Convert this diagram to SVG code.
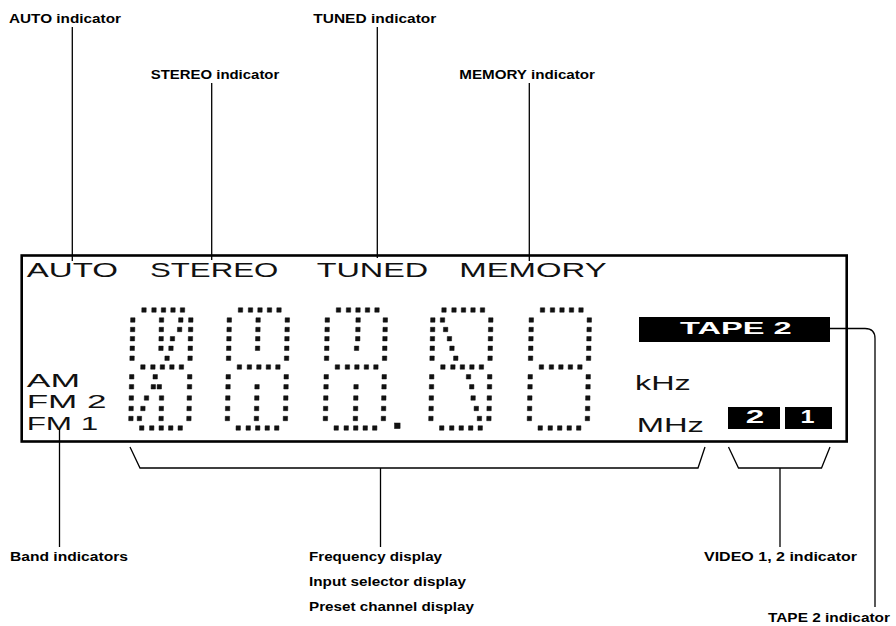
<svg xmlns="http://www.w3.org/2000/svg" width="896" height="626" viewBox="0 0 896 626">
<style>
.bg{fill:#fff}
.frame{fill:none;stroke:#000;stroke-width:2.6}
.ln{fill:none;stroke:#000;stroke-width:1.3}
.lbl{font-family:"Liberation Sans",Arial,sans-serif;font-weight:bold;font-size:12.5px;fill:#000}
.lcd{font-family:"Liberation Sans",Arial,sans-serif;font-size:21px;fill:#111}
.band{font-family:"Liberation Sans",Arial,sans-serif;font-size:18px;fill:#111}
.inv{font-family:"Liberation Sans",Arial,sans-serif;font-weight:bold;fill:#fff}
.blk{fill:#000}
.dots{fill:#111;stroke:#111;stroke-width:0.5}
</style>
<rect class="bg" x="0" y="0" width="896" height="626"/>

<g id="display">
<rect class="frame" x="21.7" y="255.5" width="825" height="186"/>
</g>

<g id="display-texts">
<text class="lcd" x="26.7" y="276.7" textLength="91.3" lengthAdjust="spacingAndGlyphs">AUTO</text>
<text class="lcd" x="150" y="276.7" textLength="128.3" lengthAdjust="spacingAndGlyphs">STEREO</text>
<text class="lcd" x="316.7" y="276.7" textLength="111.6" lengthAdjust="spacingAndGlyphs">TUNED</text>
<text class="lcd" x="459.3" y="276.7" textLength="147.4" lengthAdjust="spacingAndGlyphs">MEMORY</text>
<text class="band" x="26.7" y="387.3" textLength="53.3" lengthAdjust="spacingAndGlyphs">AM</text>
<text class="band" x="26.7" y="407.5" textLength="80" lengthAdjust="spacingAndGlyphs">FM 2</text>
<text class="band" x="26.7" y="430" textLength="71.6" lengthAdjust="spacingAndGlyphs">FM 1</text>
<text class="lcd" x="635" y="390" textLength="55.7" lengthAdjust="spacingAndGlyphs">kHz</text>
<text class="lcd" x="636.7" y="432.3" textLength="67.3" lengthAdjust="spacingAndGlyphs">MHz</text>
</g>

<g id="tape2-box">
<rect class="blk" x="639" y="317" width="191" height="25"/>
<text class="inv" x="680" y="334" font-size="17" textLength="111.7" lengthAdjust="spacingAndGlyphs">TAPE 2</text>
</g>
<g id="video2-box">
<rect class="blk" x="728" y="407" width="52" height="22"/>
<text class="inv" x="745.7" y="422.7" font-size="17.5" textLength="18.5" lengthAdjust="spacingAndGlyphs">2</text>
</g>
<g id="video1-box">
<rect class="blk" x="785" y="407" width="47" height="22"/>
<text class="inv" x="800.5" y="422.7" font-size="17.5" textLength="14" lengthAdjust="spacingAndGlyphs">1</text>
</g>

<g id="digit1" transform="translate(133 310) skewX(-1.1)">
<path class="dots" d="M8.8 -2.2h4.4v4.4h-4.4zM18.8 -2.2h4.4v4.4h-4.4zM28.3 -2.2h4.4v4.4h-4.4zM37.8 -2.2h4.4v4.4h-4.4zM47.3 -2.2h4.4v4.4h-4.4z
M8.8 54.8h4.4v4.4h-4.4zM18.8 54.8h4.4v4.4h-4.4zM28.3 54.8h4.4v4.4h-4.4zM37.8 54.8h4.4v4.4h-4.4zM47.3 54.8h4.4v4.4h-4.4z
M8.8 115.8h4.4v4.4h-4.4zM18.8 115.8h4.4v4.4h-4.4zM28.3 115.8h4.4v4.4h-4.4zM37.8 115.8h4.4v4.4h-4.4zM47.3 115.8h4.4v4.4h-4.4z
M-2.2 7.8h4.4v4.4h-4.4zM-2.2 17.3h4.4v4.4h-4.4zM-2.2 26.5h4.4v4.4h-4.4zM-2.2 36.1h4.4v4.4h-4.4zM-2.2 46h4.4v4.4h-4.4z
M-2.2 64.6h4.4v4.4h-4.4zM-2.2 74.6h4.4v4.4h-4.4zM-2.2 85.8h4.4v4.4h-4.4zM-2.2 96.3h4.4v4.4h-4.4zM-2.2 106.3h4.4v4.4h-4.4z
M55.8 7.8h4.4v4.4h-4.4zM55.8 17.3h4.4v4.4h-4.4zM55.8 26.5h4.4v4.4h-4.4zM55.8 36.1h4.4v4.4h-4.4zM55.8 46h4.4v4.4h-4.4z
M55.8 64.6h4.4v4.4h-4.4zM55.8 74.6h4.4v4.4h-4.4zM55.8 85.8h4.4v4.4h-4.4zM55.8 96.3h4.4v4.4h-4.4zM55.8 106.3h4.4v4.4h-4.4z
M26.5 7.8h4.4v4.4h-4.4zM45.8 7.8h4.4v4.4h-4.4z
M26.5 17.3h4.4v4.4h-4.4zM44.8 17.3h4.4v4.4h-4.4z
M26.5 26.5h4.4v4.4h-4.4zM37.8 26.5h4.4v4.4h-4.4z
M26.5 36.1h4.4v4.4h-4.4zM36.5 36.1h4.4v4.4h-4.4z
M32.8 46h4.4v4.4h-4.4z
M21.3 64.6h4.4v4.4h-4.4z
M19.6 74.6h4.4v4.4h-4.4zM25.6 74.6h4.4v4.4h-4.4z
M13 85.8h4.4v4.4h-4.4zM28 85.8h4.4v4.4h-4.4z
M9.6 96.3h4.4v4.4h-4.4zM28 96.3h4.4v4.4h-4.4z
M6.3 106.3h4.4v4.4h-4.4zM28 106.3h4.4v4.4h-4.4z"/>
</g>

<g id="digit2" transform="translate(229.5 310) skewX(-1.1)">
<path class="dots" d="M8.8 -2.2h4.4v4.4h-4.4zM18.8 -2.2h4.4v4.4h-4.4zM28.3 -2.2h4.4v4.4h-4.4zM37.8 -2.2h4.4v4.4h-4.4zM47.3 -2.2h4.4v4.4h-4.4z
M8.8 54.8h4.4v4.4h-4.4zM18.8 54.8h4.4v4.4h-4.4zM28.3 54.8h4.4v4.4h-4.4zM37.8 54.8h4.4v4.4h-4.4zM47.3 54.8h4.4v4.4h-4.4z
M8.8 115.8h4.4v4.4h-4.4zM18.8 115.8h4.4v4.4h-4.4zM28.3 115.8h4.4v4.4h-4.4zM37.8 115.8h4.4v4.4h-4.4zM47.3 115.8h4.4v4.4h-4.4z
M-2.2 7.8h4.4v4.4h-4.4zM-2.2 17.3h4.4v4.4h-4.4zM-2.2 26.5h4.4v4.4h-4.4zM-2.2 36.1h4.4v4.4h-4.4zM-2.2 46h4.4v4.4h-4.4z
M-2.2 64.6h4.4v4.4h-4.4zM-2.2 74.6h4.4v4.4h-4.4zM-2.2 85.8h4.4v4.4h-4.4zM-2.2 96.3h4.4v4.4h-4.4zM-2.2 106.3h4.4v4.4h-4.4z
M55.8 7.8h4.4v4.4h-4.4zM55.8 17.3h4.4v4.4h-4.4zM55.8 26.5h4.4v4.4h-4.4zM55.8 36.1h4.4v4.4h-4.4zM55.8 46h4.4v4.4h-4.4z
M55.8 64.6h4.4v4.4h-4.4zM55.8 74.6h4.4v4.4h-4.4zM55.8 85.8h4.4v4.4h-4.4zM55.8 96.3h4.4v4.4h-4.4zM55.8 106.3h4.4v4.4h-4.4z
M26.6 7.8h4.4v4.4h-4.4zM26.6 17.3h4.4v4.4h-4.4zM26.6 26.5h4.4v4.4h-4.4zM26.6 36.1h4.4v4.4h-4.4z
M26.8 74.6h4.4v4.4h-4.4zM26.8 85.8h4.4v4.4h-4.4zM26.8 96.3h4.4v4.4h-4.4zM26.8 106.3h4.4v4.4h-4.4z"/>
</g>

<g id="digit3" transform="translate(327.5 310) skewX(-1.1)">
<path class="dots" d="M8.8 -2.2h4.4v4.4h-4.4zM18.8 -2.2h4.4v4.4h-4.4zM28.3 -2.2h4.4v4.4h-4.4zM37.8 -2.2h4.4v4.4h-4.4zM47.3 -2.2h4.4v4.4h-4.4z
M8.8 54.8h4.4v4.4h-4.4zM18.8 54.8h4.4v4.4h-4.4zM28.3 54.8h4.4v4.4h-4.4zM37.8 54.8h4.4v4.4h-4.4zM47.3 54.8h4.4v4.4h-4.4z
M8.8 115.8h4.4v4.4h-4.4zM18.8 115.8h4.4v4.4h-4.4zM28.3 115.8h4.4v4.4h-4.4zM37.8 115.8h4.4v4.4h-4.4zM47.3 115.8h4.4v4.4h-4.4z
M-2.2 7.8h4.4v4.4h-4.4zM-2.2 17.3h4.4v4.4h-4.4zM-2.2 26.5h4.4v4.4h-4.4zM-2.2 36.1h4.4v4.4h-4.4zM-2.2 46h4.4v4.4h-4.4z
M-2.2 64.6h4.4v4.4h-4.4zM-2.2 74.6h4.4v4.4h-4.4zM-2.2 85.8h4.4v4.4h-4.4zM-2.2 96.3h4.4v4.4h-4.4zM-2.2 106.3h4.4v4.4h-4.4z
M55.8 7.8h4.4v4.4h-4.4zM55.8 17.3h4.4v4.4h-4.4zM55.8 26.5h4.4v4.4h-4.4zM55.8 36.1h4.4v4.4h-4.4zM55.8 46h4.4v4.4h-4.4z
M55.8 64.6h4.4v4.4h-4.4zM55.8 74.6h4.4v4.4h-4.4zM55.8 85.8h4.4v4.4h-4.4zM55.8 96.3h4.4v4.4h-4.4zM55.8 106.3h4.4v4.4h-4.4z
M28.6 7.8h4.4v4.4h-4.4zM28.6 17.3h4.4v4.4h-4.4zM28.6 26.5h4.4v4.4h-4.4zM27.6 36.1h4.4v4.4h-4.4z
M27.8 74.6h4.4v4.4h-4.4zM27.8 85.8h4.4v4.4h-4.4zM27.8 96.3h4.4v4.4h-4.4zM27.8 106.3h4.4v4.4h-4.4z"/>
</g>
<rect class="dots" x="394.5" y="423" width="5.6" height="5.6"/>

<g id="digit4" transform="translate(433 310) skewX(-1.1)">
<path class="dots" d="M8.8 -2.2h4.4v4.4h-4.4zM18.8 -2.2h4.4v4.4h-4.4zM28.3 -2.2h4.4v4.4h-4.4zM37.8 -2.2h4.4v4.4h-4.4zM47.3 -2.2h4.4v4.4h-4.4z
M8.8 54.8h4.4v4.4h-4.4zM18.8 54.8h4.4v4.4h-4.4zM28.3 54.8h4.4v4.4h-4.4zM37.8 54.8h4.4v4.4h-4.4zM47.3 54.8h4.4v4.4h-4.4z
M8.8 115.8h4.4v4.4h-4.4zM18.8 115.8h4.4v4.4h-4.4zM28.3 115.8h4.4v4.4h-4.4zM37.8 115.8h4.4v4.4h-4.4zM47.3 115.8h4.4v4.4h-4.4z
M-2.2 7.8h4.4v4.4h-4.4zM-2.2 17.3h4.4v4.4h-4.4zM-2.2 26.5h4.4v4.4h-4.4zM-2.2 36.1h4.4v4.4h-4.4zM-2.2 46h4.4v4.4h-4.4z
M-2.2 64.6h4.4v4.4h-4.4zM-2.2 74.6h4.4v4.4h-4.4zM-2.2 85.8h4.4v4.4h-4.4zM-2.2 96.3h4.4v4.4h-4.4zM-2.2 106.3h4.4v4.4h-4.4z
M55.8 7.8h4.4v4.4h-4.4zM55.8 17.3h4.4v4.4h-4.4zM55.8 26.5h4.4v4.4h-4.4zM55.8 36.1h4.4v4.4h-4.4zM55.8 46h4.4v4.4h-4.4z
M55.8 64.6h4.4v4.4h-4.4zM55.8 74.6h4.4v4.4h-4.4zM55.8 85.8h4.4v4.4h-4.4zM55.8 96.3h4.4v4.4h-4.4zM55.8 106.3h4.4v4.4h-4.4z
M7.5 7.8h4.4v4.4h-4.4zM10.8 17.3h4.4v4.4h-4.4zM14.8 26.5h4.4v4.4h-4.4zM17.5 36.1h4.4v4.4h-4.4zM21.5 46h4.4v4.4h-4.4z
M34.6 64.6h4.4v4.4h-4.4zM38 74.6h4.4v4.4h-4.4zM39.6 85.8h4.4v4.4h-4.4zM43 96.3h4.4v4.4h-4.4zM46.3 106.3h4.4v4.4h-4.4z"/>
</g>

<g id="digit5" transform="translate(531.5 310) skewX(-1.1)">
<path class="dots" d="M8.8 -2.2h4.4v4.4h-4.4zM18.8 -2.2h4.4v4.4h-4.4zM28.3 -2.2h4.4v4.4h-4.4zM37.8 -2.2h4.4v4.4h-4.4zM47.3 -2.2h4.4v4.4h-4.4z
M8.8 54.8h4.4v4.4h-4.4zM18.8 54.8h4.4v4.4h-4.4zM28.3 54.8h4.4v4.4h-4.4zM37.8 54.8h4.4v4.4h-4.4zM47.3 54.8h4.4v4.4h-4.4z
M8.8 115.8h4.4v4.4h-4.4zM18.8 115.8h4.4v4.4h-4.4zM28.3 115.8h4.4v4.4h-4.4zM37.8 115.8h4.4v4.4h-4.4zM47.3 115.8h4.4v4.4h-4.4z
M-2.2 7.8h4.4v4.4h-4.4zM-2.2 17.3h4.4v4.4h-4.4zM-2.2 26.5h4.4v4.4h-4.4zM-2.2 36.1h4.4v4.4h-4.4zM-2.2 46h4.4v4.4h-4.4z
M-2.2 64.6h4.4v4.4h-4.4zM-2.2 74.6h4.4v4.4h-4.4zM-2.2 85.8h4.4v4.4h-4.4zM-2.2 96.3h4.4v4.4h-4.4zM-2.2 106.3h4.4v4.4h-4.4z
M55.8 7.8h4.4v4.4h-4.4zM55.8 17.3h4.4v4.4h-4.4zM55.8 26.5h4.4v4.4h-4.4zM55.8 36.1h4.4v4.4h-4.4zM55.8 46h4.4v4.4h-4.4z
M55.8 64.6h4.4v4.4h-4.4zM55.8 74.6h4.4v4.4h-4.4zM55.8 85.8h4.4v4.4h-4.4zM55.8 96.3h4.4v4.4h-4.4zM55.8 106.3h4.4v4.4h-4.4z"/>
</g>

<g id="connectors">
<path class="ln" d="M72.3 27V261"/>
<path class="ln" d="M211.7 83V260"/>
<path class="ln" d="M377.3 27V258"/>
<path class="ln" d="M529.3 83V261"/>
<path class="ln" d="M59.5 429V547"/>
<path class="ln" d="M130 447L140 468H698L705 447"/>
<path class="ln" d="M380.5 468V547"/>
<path class="ln" d="M728.5 447L738.5 468H821.5L830 447"/>
<path class="ln" d="M780 468V547"/>
<path class="ln" d="M830 328.5H865Q875 328.5 875 338.5V607"/>
</g>

<g id="label-auto"><text class="lbl" x="9" y="23.3" textLength="112" lengthAdjust="spacingAndGlyphs">AUTO indicator</text></g>
<g id="label-tuned"><text class="lbl" x="313.3" y="22.7" textLength="123" lengthAdjust="spacingAndGlyphs">TUNED indicator</text></g>
<g id="label-stereo"><text class="lbl" x="150.7" y="79" textLength="128.6" lengthAdjust="spacingAndGlyphs">STEREO indicator</text></g>
<g id="label-memory"><text class="lbl" x="459.3" y="79" textLength="135.7" lengthAdjust="spacingAndGlyphs">MEMORY indicator</text></g>
<g id="label-band"><text class="lbl" x="10" y="561" textLength="118" lengthAdjust="spacingAndGlyphs">Band indicators</text></g>
<g id="label-freq">
<text class="lbl" x="309" y="561" textLength="133" lengthAdjust="spacingAndGlyphs">Frequency display</text>
<text class="lbl" x="309" y="586" textLength="157" lengthAdjust="spacingAndGlyphs">Input selector display</text>
<text class="lbl" x="309" y="611" textLength="165" lengthAdjust="spacingAndGlyphs">Preset channel display</text>
</g>
<g id="label-video"><text class="lbl" x="704" y="561" textLength="153" lengthAdjust="spacingAndGlyphs">VIDEO 1, 2 indicator</text></g>
<g id="label-tape2"><text class="lbl" x="768" y="622" textLength="122" lengthAdjust="spacingAndGlyphs">TAPE 2 indicator</text></g>
</svg>
